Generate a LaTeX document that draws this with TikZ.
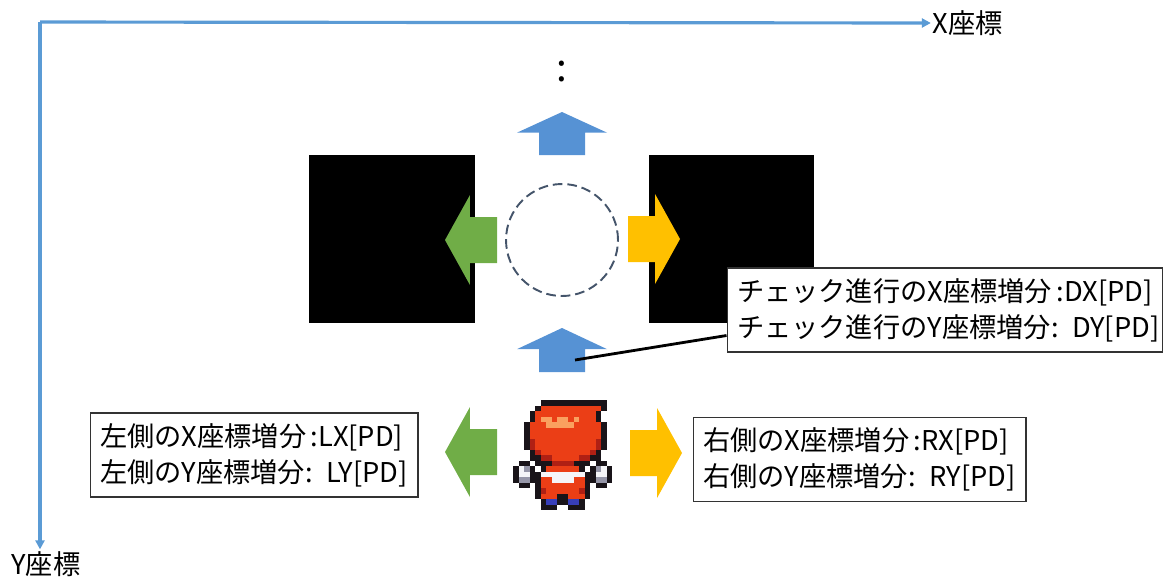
\documentclass[tikz,border=0pt]{standalone}
\usepackage{fontspec}
\newfontfamily\jpfont{Noto Sans CJK JP}
\usetikzlibrary{arrows.meta,calc}
\definecolor{axisblue}{RGB}{91,155,213}
\definecolor{stepblue}{RGB}{86,146,212}
\definecolor{leftgreen}{RGB}{112,173,71}
\definecolor{rightgold}{RGB}{255,192,0}
\definecolor{ringgray}{RGB}{68,84,106}
% sprite palette
\definecolor{pxk}{RGB}{25,20,25}
\definecolor{pxr}{RGB}{235,62,22}
\definecolor{pxo}{RGB}{250,160,95}
\definecolor{pxd}{RGB}{175,32,20}
\definecolor{pxw}{RGB}{245,245,248}
\definecolor{pxg}{RGB}{150,150,168}
\definecolor{pxb}{RGB}{55,62,185}
\tikzset{
  >={Triangle[length=1.8mm,width=1.8mm]},
  coordaxis/.style={->,draw=axisblue,line width=1.8pt},
  axislabel/.style={font=\jpfont\fontsize{15.5}{18}\selectfont,inner sep=1pt},
  infobox/.style={draw=black!80,fill=white,line width=0.6pt,align=left,
    inner xsep=0.2cm,minimum height=1.68cm,text width=#1,
    font=\jpfont\fontsize{15.5}{20.5}\selectfont},
  wall/.style={fill=black,minimum width=3.32cm,minimum height=3.36cm,inner sep=0pt},
  checkring/.style={circle,draw=ringgray,line width=1.1pt,
    dash pattern=on 5.5pt off 2.8pt,minimum size=2.24cm,inner sep=0pt},
  % block arrow, tail at the origin, pointing along +x
  pics/blockarrow/.style 2 args={code={
    \fill[#1] (0,-23) -- (0.52*#2,-23) -- (0.52*#2,-45) -- (#2,0)
      -- (0.52*#2,45) -- (0.52*#2,23) -- (0,23) -- cycle;
    \coordinate (-c) at (0.5*#2,0);
  }},
}
\begin{document}
\begin{tikzpicture}[x=0.02cm,y=-0.02cm]
  \useasboundingbox (0,0) rectangle (1166,576);

  % coordinate axes
  \coordinate (o) at (40,22);
  \node[axislabel] (xlab) at (968,23) {X座標};
  \node[axislabel] (ylab) at (46,564) {Y座標};
  \draw[coordaxis] (o) -- (xlab.west);
  \draw[coordaxis] (o) -- (o |- ylab.north);

  % walls on both sides of the checked cell
  \node[wall] (wallL) at (392,239) {};
  \node[wall] (wallR) at (731.5,239) {};
  \node[checkring] (ring) at (562,240) {};
  \node[font=\jpfont\fontsize{22}{22}\selectfont,inner sep=0pt] (dots) at (562,72) {:};

  % direction arrows
  \pic[rotate=90]  (up1) at (562,155) {blockarrow={stepblue}{43}};
  \pic[rotate=180] (lf1) at (497,240) {blockarrow={leftgreen}{52}};
  \pic             (rt1) at (628,239) {blockarrow={rightgold}{52}};
  \pic[rotate=90]  (up2) at (562,372) {blockarrow={stepblue}{44}};
  \pic[rotate=180] (lf2) at (497,452) {blockarrow={leftgreen}{52}};
  \pic             (rt2) at (630,453) {blockarrow={rightgold}{52}};

  % player sprite
  \foreach \row [count=\j from 0] in {
    {n,n,n,n,n,k,k,k,k,k,k,k,k,k,k,k,k,n},
    {n,n,n,n,k,r,r,r,r,r,r,r,r,r,r,r,k,n},
    {n,n,n,k,r,r,r,r,r,r,r,r,r,r,r,k,n,n},
    {n,n,n,k,r,o,o,r,o,o,r,o,r,r,r,k,n,n},
    {n,n,k,r,r,r,o,o,o,o,o,r,r,r,r,r,k,n},
    {n,n,k,r,r,r,r,r,r,r,r,r,r,r,r,r,k,n},
    {n,n,k,r,r,r,r,r,r,r,r,r,r,r,r,r,k,n},
    {n,n,k,d,r,r,r,r,r,r,r,r,r,r,r,d,k,n},
    {n,n,k,d,r,r,r,r,r,r,r,r,r,r,r,d,k,n},
    {n,n,n,k,d,r,r,r,r,r,r,r,r,r,d,k,n,n},
    {n,n,n,k,k,d,d,r,r,r,r,r,d,d,k,k,n,n},
    {n,k,k,n,k,k,k,d,d,d,d,k,k,k,n,k,k,n},
    {k,w,g,k,n,k,r,r,r,r,r,r,k,n,k,g,w,k},
    {k,w,w,k,k,w,w,w,w,w,w,w,w,k,k,w,w,k},
    {k,g,g,k,k,r,r,w,w,w,w,r,r,k,k,g,g,k},
    {n,k,k,n,k,r,r,r,r,r,r,r,r,k,n,k,k,n},
    {n,n,n,n,k,d,r,r,r,r,r,r,d,k,n,n,n,n},
    {n,n,n,n,k,r,r,r,k,k,r,r,r,k,n,n,n,n},
    {n,n,n,n,n,k,b,b,k,k,b,b,k,n,n,n,n,n},
    {n,n,n,n,n,k,k,k,n,n,k,k,k,n,n,n,n,n}}{
    \foreach \c [count=\i from 0] in \row {
      \if\c n\else
        \fill[px\c] (513+5.5*\i,400+5.5*\j) rectangle ++(5.6,5.6);
      \fi
    }
  }

  % increment labels
  \node[infobox=8.32cm] (dx) at (945,310)
    {チェック進行のX座標増分\,:DX[PD]\\チェック進行のY座標増分\mbox{: DY[PD]}};
  \node[infobox=6.16cm] (lx) at (254,455)
    {左側のX座標増分\,:LX[PD]\\左側のY座標増分\mbox{: LY[PD]}};
  \node[infobox=6.26cm] (rx) at (859.5,459.5)
    {右側のX座標増分\,:RX[PD]\\右側のY座標増分\mbox{: RY[PD]}};
  \draw[line width=1.6pt] ($(up2-c)+(13,10)$) -- ($(dx.south west)!0.2!(dx.north west)$);
\end{tikzpicture}
\end{document}
